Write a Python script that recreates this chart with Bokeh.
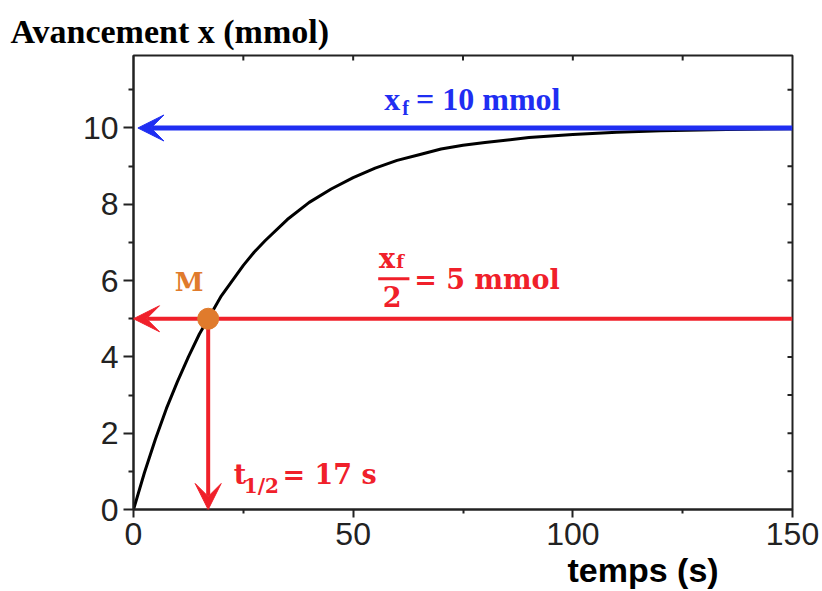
import math
from bokeh.plotting import figure
from bokeh.models import Range1d, FixedTicker, Arrow, VeeHead, Label, Title
from bokeh.embed import file_html
from bokeh.resources import INLINE

# ---- data ----
t_s = [0, 2.5, 5, 7.5, 10, 12.5, 15, 17.5, 20, 22.5, 25, 27.5, 30, 35, 40, 45, 50, 55, 60,
       65, 70, 75, 80, 90, 100, 110, 120, 135, 150]
x_mmol = [0, 0.97, 1.85, 2.65, 3.35, 4.0, 4.6, 5.1, 5.6, 6.0, 6.4, 6.75, 7.05, 7.6, 8.05,
          8.4, 8.7, 8.95, 9.15, 9.3, 9.45, 9.55, 9.62, 9.75, 9.83, 9.89, 9.93, 9.96, 9.98]
x_final = 10          # mmol
x_half = 5            # mmol
t_half = 17           # s
x_ticks = [0, 50, 100, 150]
x_minor = [25, 75, 125]
y_ticks = [0, 2, 4, 6, 8, 10]
y_minor = [1, 3, 5, 7, 9, 11]
top_ticks = [25, 50, 75, 100, 125]
right_ticks = [1, 2, 3, 4, 5, 6, 7, 8, 9, 10, 11]
X_MAX = 150
Y_MAX = 11.9

BLUE = "#1f2ef2"
RED = "#f0202a"
ORANGE = "#e07b2c"
INK = "#222222"
SERIF = "Liberation Serif"
SERIF2 = "DejaVu Serif"
SANS = "Liberation Sans"

p = figure(width=822, height=591, x_range=Range1d(0, X_MAX), y_range=Range1d(0, Y_MAX),
           output_backend="svg", toolbar_location=None,
           min_border_left=133, min_border_right=30, min_border_top=55, min_border_bottom=82)
p.xgrid.visible = False
p.ygrid.visible = False
p.outline_line_color = INK
p.outline_line_width = 2
p.background_fill_color = "white"
p.border_fill_color = "white"

for ax, tk, mn in ((p.xaxis[0], x_ticks, x_minor), (p.yaxis[0], y_ticks, y_minor)):
    ax.ticker = FixedTicker(ticks=tk, minor_ticks=mn)
    ax.axis_line_color = INK
    ax.axis_line_width = 2
    ax.major_tick_line_color = INK
    ax.major_tick_line_width = 2
    ax.minor_tick_line_color = INK
    ax.minor_tick_line_width = 2
    ax.major_tick_in = 0
    ax.minor_tick_in = 0
    ax.major_label_text_font = SANS
    ax.major_label_text_font_size = "32px"
    ax.major_label_text_color = INK
p.xaxis.major_tick_out = 8
p.xaxis.minor_tick_out = 4
p.xaxis.major_label_standoff = 5
p.yaxis.major_tick_out = 10
p.yaxis.minor_tick_out = 5
p.yaxis.major_label_standoff = 5

# inward ticks on the top and right edges (half of each dash is clipped by the frame)
p.scatter(top_ticks, [Y_MAX] * len(top_ticks), marker="dash", angle=math.pi / 2, size=10,
          line_color=INK, line_width=2)
p.scatter([X_MAX] * len(right_ticks), right_ticks, marker="dash", size=10,
          line_color=INK, line_width=2)

# titles
ttl = Title(text="Avancement x (mmol)", align="left", offset=-123, standoff=12,
            text_font=SERIF, text_font_size="34px", text_font_style="bold", text_color="black")
p.add_layout(ttl, "above")
xl = Title(text="temps (s)", align="left", offset=434, standoff=3,
           text_font=SANS, text_font_size="34px", text_font_style="bold", text_color="black")
p.add_layout(xl, "below")

# curve
p.line(t_s, x_mmol, line_color="black", line_width=3)

# arrows
p.add_layout(Arrow(end=VeeHead(size=26, fill_color=BLUE, line_color=BLUE),
                   x_start=X_MAX, y_start=x_final, x_end=1, y_end=x_final,
                   line_color=BLUE, line_width=5))
p.add_layout(Arrow(end=VeeHead(size=26, fill_color=RED, line_color=RED),
                   x_start=X_MAX, y_start=x_half, x_end=0, y_end=x_half,
                   line_color=RED, line_width=4))
p.add_layout(Arrow(end=VeeHead(size=26, fill_color=RED, line_color=RED),
                   x_start=t_half, y_start=x_half, x_end=t_half, y_end=0,
                   line_color=RED, line_width=4))

# point M
p.scatter([t_half], [x_half], size=21, fill_color=ORANGE, line_color=ORANGE, level="overlay")


def lab(x, y, text, color, size, font=SERIF, style="bold", align="left", baseline="alphabetic"):
    p.add_layout(Label(x=x, y=y, text=text, text_color=color, text_font=font,
                       text_font_size=size, text_font_style=style, text_align=align,
                       text_baseline=baseline))


# x_f = 10 mmol
lab(57.1, 10.75, "x", BLUE, "32px")
lab(61.2, 10.52, "f", BLUE, "20px")
lab(64.3, 10.75, "= 10 mmol", BLUE, "32px")

# x_f / 2 = 5 mmol
lab(55.9, 6.57, "x", RED, "27px", font=SERIF2)
lab(59.8, 6.49, "f", RED, "18px", font=SERIF2)
p.add_layout(Arrow(end=None, x_start=55.7, y_start=6.05, x_end=62.8, y_end=6.05,
                   line_color=RED, line_width=3))
lab(58.9, 5.58, "2", RED, "27px", font=SERIF2, align="center")
lab(63.9, 6.02, "= 5 mmol", RED, "27px", font=SERIF2)

# t_1/2 = 17 s
lab(22.8, 0.91, "t", RED, "27px", font=SERIF2)
lab(25.1, 0.62, "1/2", RED, "20px", font=SERIF2)
lab(33.9, 0.91, "= 17 s", RED, "27px", font=SERIF2)

# M
lab(9.4, 5.97, "M", ORANGE, "26px", font=SERIF2)

open("out.html", "w").write(file_html(p, INLINE))
